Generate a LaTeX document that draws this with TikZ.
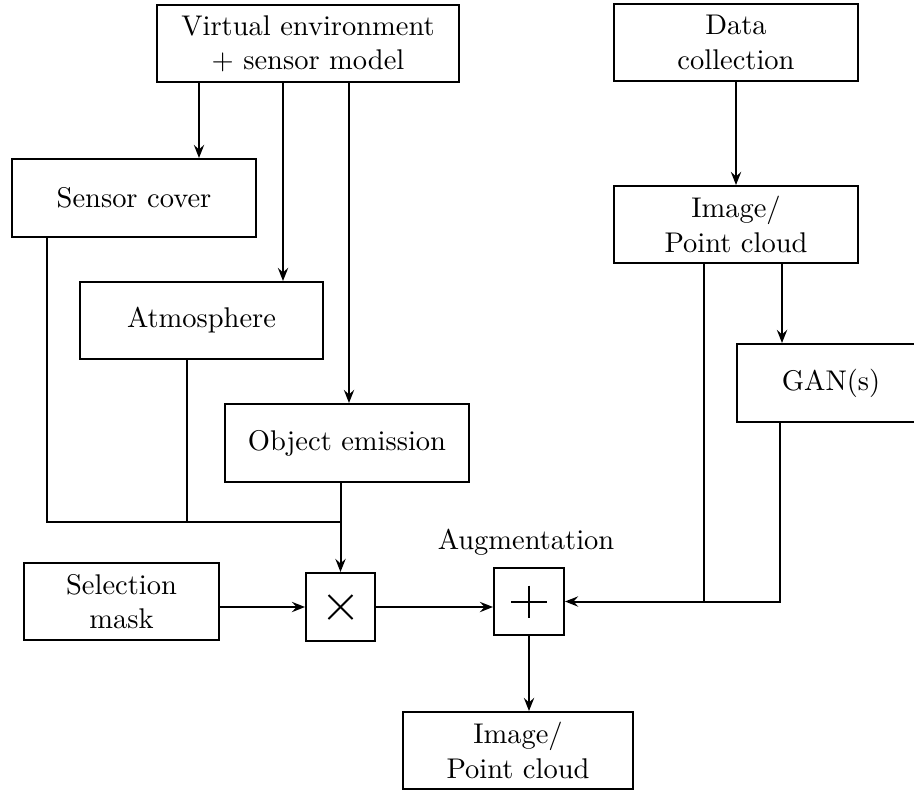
\documentclass[tikz,border=0pt]{standalone}
\usetikzlibrary{arrows.meta,calc}
\begin{document}
\begin{tikzpicture}[x=0.351pt,y=-0.351pt,
  box/.style args={#1x#2}{draw, line width=0.7pt, inner sep=0pt, align=center,
    minimum width=#1*0.351pt, minimum height=#2*0.351pt},
  conn/.style={line width=0.7pt},
  arr/.style={conn, -{Stealth[length=4.6pt,width=3.6pt,inset=1.6pt]}},
]
\useasboundingbox (0,0) rectangle (914,790);
\clip (0,0) rectangle (914,790);

\node[box=302x77] (ve) at (308,43.5) {Virtual environment\\+ sensor model};
\node[box=244x77] (dc) at (736,42.5) {Data\\collection};
\node[box=244x78] (sc) at (134,198) {Sensor cover};
\node[box=243x77] (atm) at (201.5,320.5) {Atmosphere};
\node[box=244x78] (oe) at (347,443) {Object emission};
\node[box=244x77] (img) at (736,224.5) {Image/\\Point cloud};
\node[box=188x78] (gan) at (831,383) {GAN(s)};
\node[box=195x77] (sm) at (121.5,601.5) {Selection\\mask};
\node[box=69x68] (times) at (340.5,607) {};
\node[box=70x67] (plus) at (529,601.5) {};
\node[anchor=base] (aug) at (526,549) {Augmentation};
\node[box=230x77] (out) at (518,750.5) {Image/\\Point cloud};

% operator symbols
\draw[conn] ($(times.center)+(-12,-12)$) -- ($(times.center)+(12,12)$);
\draw[conn] ($(times.center)+(-12,12)$) -- ($(times.center)+(12,-12)$);
\draw[conn] ($(plus.center)+(-18,0)$) -- ($(plus.center)+(18,0)$);
\draw[conn] ($(plus.center)+(0,-16)$) -- ($(plus.center)+(0,16)$);

\coordinate (x1) at (199,0);
\coordinate (x2) at (283,0);
\coordinate (x3) at (349,0);
\coordinate (x4) at (47,0);
\coordinate (x5) at (187,0);
\coordinate (x6) at (782,0);
\coordinate (x7) at (704,0);
\coordinate (x8) at (780,0);
\coordinate (jn) at (340.5,522);

\draw[arr] (ve.south -| x1) -- (sc.north -| x1);
\draw[arr] (ve.south -| x2) -- (atm.north -| x2);
\draw[arr] (ve.south -| x3) -- (oe.north -| x3);
\draw[conn] (sc.south -| x4) |- (jn);
\draw[conn] (atm.south -| x5) -- (x5 |- jn);
\draw[arr] (oe.south -| times.north) -- (times.north);
\draw[arr] (sm.east |- times.west) -- (times.west);
\draw[arr] (times.east) -- (times.east -| plus.west);
\draw[arr] (dc.south) -- (img.north);
\draw[arr] (img.south -| x6) -- (gan.north -| x6);
\draw[conn] (img.south -| x7) -- (x7 |- plus.east);
\draw[arr] (gan.south -| x8) |- (plus.east);
\draw[arr] (plus.south) -- (out.north -| plus.south);
\end{tikzpicture}
\end{document}
